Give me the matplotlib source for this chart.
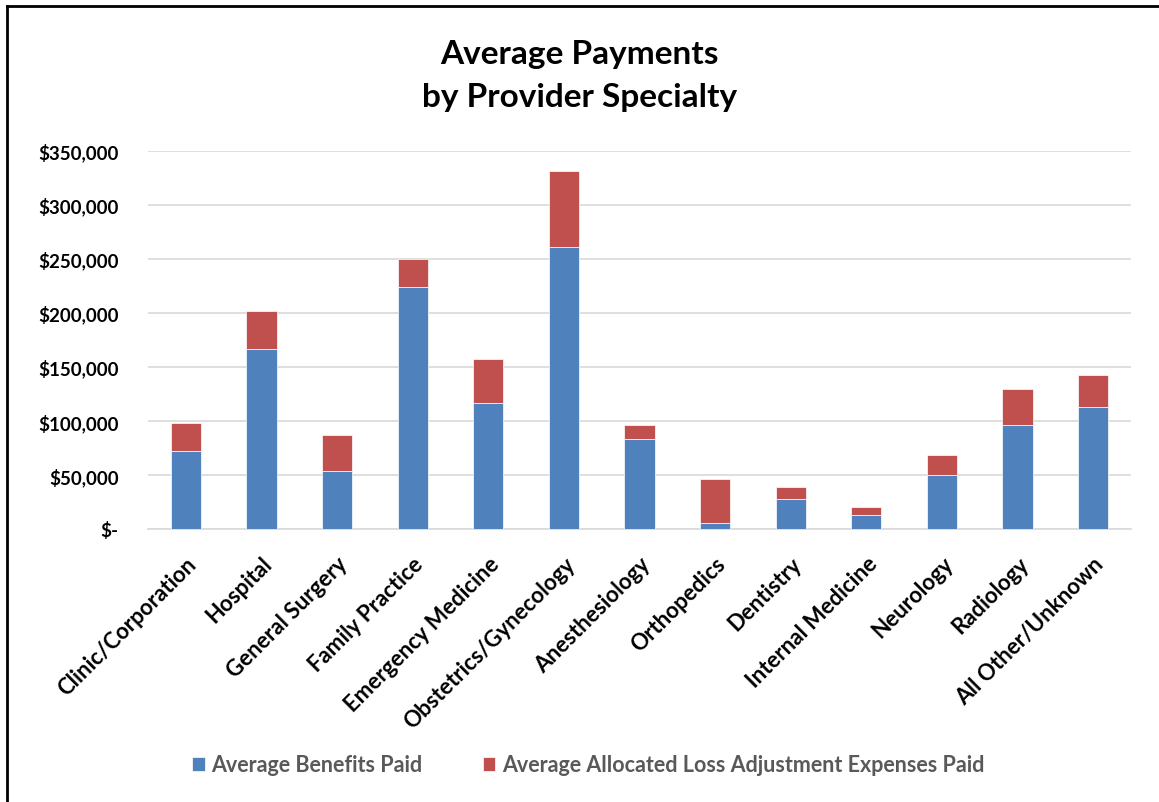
import matplotlib
matplotlib.use("Agg")
import matplotlib.pyplot as plt
import numpy as np
from matplotlib.lines import Line2D
from matplotlib.ticker import FuncFormatter

plt.rcParams['font.family'] = ['Lato', 'DejaVu Sans']
plt.rcParams['font.weight'] = 'bold'

specialties = [
    "Clinic/Corporation", "Hospital", "General Surgery", "Family Practice",
    "Emergency Medicine", "Obstetrics/Gynecology", "Anesthesiology",
    "Orthopedics", "Dentistry", "Internal Medicine", "Neurology",
    "Radiology", "All Other/Unknown",
]
# average benefits paid per claim
benefits = [72200, 166300, 53700, 223600, 116600, 260600, 83300,
            5600, 27800, 13000, 50000, 96200, 112900]
# average allocated loss adjustment expenses paid
alae = [25900, 35400, 33300, 26200, 40700, 70400, 12900,
        40700, 11100, 7400, 18500, 33300, 29600]

BLUE = "#4F81BD"
RED = "#C0504D"
GRID = "#D9D9D9"


def dollars(v, pos):
    if v == 0:
        return "$-"
    return f"${v:,.0f}"


W, H = 1159, 803
fig = plt.figure(figsize=(W / 100, H / 100), dpi=100)
ax = fig.add_axes([148 / W, 1 - 530 / H, (1131 - 148) / W, (530 - 151.7) / H])

x = np.arange(len(specialties))
ax.bar(x, benefits, width=0.4, color=BLUE, edgecolor="white", linewidth=0.5,
       zorder=3, label="Average Benefits Paid")
ax.bar(x, alae, width=0.4, bottom=benefits, color=RED, edgecolor="white",
       linewidth=0.5, zorder=3,
       label="Average Allocated Loss Adjustment Expenses Paid")

ax.set_xlim(-0.5, len(specialties) - 0.5)
ax.set_ylim(0, 350000)
ax.set_yticks(np.arange(0, 350001, 50000))
ax.yaxis.set_major_formatter(FuncFormatter(dollars))
ax.grid(axis="y", color=GRID, linewidth=1.2, zorder=0)
for s in ["top", "right", "left"]:
    ax.spines[s].set_visible(False)
ax.spines["bottom"].set_color(GRID)
ax.spines["bottom"].set_linewidth(1.2)
ax.tick_params(axis="both", length=0)
ax.tick_params(axis="y", pad=21, labelsize=13.5)
ax.set_xticks(x)
ax.set_xticklabels(specialties, rotation=45, ha="right",
                   rotation_mode="anchor", fontweight="bold")
ax.tick_params(axis="x", pad=17, labelsize=16)

fig.text(0.5, 1 - 76 / H, "Average Payments\nby Provider Specialty",
         ha="center", va="center", fontsize=24, fontweight="bold",
         linespacing=1.6)

leg = fig.legend(loc="center", bbox_to_anchor=(588 / W, 1 - 766 / H), ncol=2,
                 frameon=False, fontsize=15.5, handlelength=0.6,
                 handleheight=0.6, handletextpad=0.3, columnspacing=2.8)
for t in leg.get_texts():
    t.set_color("#595959")

# frame lines along top and left edge
fig.add_artist(Line2D([7 / W, 1], [1 - 7 / H, 1 - 7 / H], transform=fig.transFigure,
                      color="black", linewidth=2))
fig.add_artist(Line2D([7 / W, 7 / W], [0, 1 - 7 / H], transform=fig.transFigure,
                      color="black", linewidth=2))

fig.savefig("out.png", dpi=100, facecolor="white")
